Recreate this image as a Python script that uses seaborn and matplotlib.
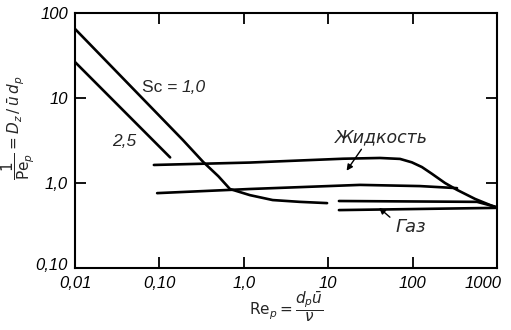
import numpy as np
import pandas as pd
import matplotlib
matplotlib.use("Agg")
import matplotlib.pyplot as plt
import matplotlib.transforms as mtransforms
import seaborn as sns
from matplotlib.ticker import FixedLocator, FixedFormatter, NullLocator

# ---- data ----
sc10_re = [0.01, 0.19, 0.33, 0.5, 0.685, 1.18, 2.2, 4.6, 9.7]
sc10_y = [65.0, 3.2, 1.77, 1.2, 0.85, 0.72, 0.63, 0.60, 0.58]

sc25_re = [0.01, 0.134]
sc25_y = [26.5, 2.0]

liq_up_re = [0.086, 1.18, 4.6, 15.0, 41.0, 71.0, 98.0, 129.0, 170.0, 242.0, 336.0, 549.0, 1000.0]
liq_up_y = [1.63, 1.74, 1.84, 1.93, 1.97, 1.92, 1.75, 1.54, 1.28, 1.0, 0.83, 0.65, 0.51]

liq_lo_re = [0.094, 1.18, 23.8, 122.0, 336.0]
liq_lo_y = [0.76, 0.85, 0.95, 0.92, 0.87]

gas_up_re = [13.4, 580.0, 1000.0]
gas_up_y = [0.614, 0.60, 0.52]

gas_lo_re = [13.4, 1000.0]
gas_lo_y = [0.48, 0.51]

xtick_vals = [0.01, 0.1, 1, 10, 100, 1000]
xtick_labels = ["0,01", "0,10", "1,0", "10", "100", "1000"]
ytick_vals = [0.1, 1, 10, 100]
ytick_labels = ["0,10", "1,0", "10", "100"]

# ---- figure ----
sns.set_style("ticks")
plt.rcParams['font.family'] = ['DejaVu Sans']
plt.rcParams['mathtext.fontset'] = 'dejavusans'

fig = plt.figure(figsize=(5.11, 3.30), dpi=100)
ax = fig.add_axes([75/511, 1-268/330, (497-75)/511, (268-13)/330])

lw = 1.9
for xs, ys in [(sc10_re, sc10_y), (sc25_re, sc25_y), (liq_up_re, liq_up_y),
               (liq_lo_re, liq_lo_y), (gas_up_re, gas_up_y), (gas_lo_re, gas_lo_y)]:
    df = pd.DataFrame({"Re": xs, "v": ys})
    sns.lineplot(data=df, x="Re", y="v", ax=ax, color="black", lw=lw,
                 sort=False, estimator=None)

ax.set_xscale("log")
ax.set_yscale("log")
ax.set_xlim(0.01, 1000)
ax.set_ylim(0.1, 100)

ax.xaxis.set_major_locator(FixedLocator(xtick_vals))
ax.xaxis.set_major_formatter(FixedFormatter(xtick_labels))
ax.yaxis.set_major_locator(FixedLocator(ytick_vals))
ax.yaxis.set_major_formatter(FixedFormatter(ytick_labels))
ax.xaxis.set_minor_locator(NullLocator())
ax.yaxis.set_minor_locator(NullLocator())

ax.tick_params(which="major", direction="in", length=8, width=1.3,
               top=True, right=True, colors="black")
ax.tick_params(axis="x", pad=6)
ax.tick_params(axis="y", pad=5)
for lab in ax.get_xticklabels() + ax.get_yticklabels():
    lab.set_fontfamily("Liberation Sans")
    lab.set_fontstyle("italic")
    lab.set_fontsize(12)

fig.canvas.draw()
xl = ax.get_xticklabels()
xl[-1].set_horizontalalignment("right")
xl[-1].set_transform(xl[-1].get_transform() +
                     mtransforms.ScaledTranslation(5/100, 0, fig.dpi_scale_trans))
yl = ax.get_yticklabels()
yl[0].set_transform(yl[0].get_transform() +
                    mtransforms.ScaledTranslation(0, 4/100, fig.dpi_scale_trans))

for s in ax.spines.values():
    s.set_linewidth(1.5)
    s.set_color("black")

ax.set_xlabel(r"$\mathrm{Re}_p = \dfrac{d_p\bar{u}}{\nu}$", fontsize=11)
ax.xaxis.set_label_coords(0.5, -0.083)
ax.set_ylabel(r"$\dfrac{1}{\mathrm{Pe}_p} = \mathit{D_z}\,/\,\bar{u}\,d_p$", fontsize=11)
ax.yaxis.set_label_coords(-0.09, 0.55)

ax.text(0.062, 10**(2-74/85), "Sc =", fontsize=12.5, family="Liberation Sans",
        ha="left", va="center")
ax.text(10**((182-75)/84.4-2), 10**(2-74/85), "1,0", fontsize=12.5,
        family="Liberation Sans", style="italic", ha="left", va="center")
ax.text(0.0274, 10**(2-129/85), "2,5", fontsize=12.5, family="Liberation Sans",
        style="italic", ha="left", va="center")
ax.text(12.0, 10**(2-124/85), "Жидкость", fontsize=12.5, style="italic", ha="left", va="center")
ax.text(62.0, 10**(2-214/85), "Газ", fontsize=13, style="italic", ha="left", va="center")

def px2data(xp, yp):
    return 10**((xp-75)/84.4 - 2), 10**(2 - (yp-13)/85)

ax.annotate("", xy=px2data(345, 173), xytext=px2data(363, 147),
            arrowprops=dict(arrowstyle="-|>", color="black", lw=1.0, mutation_scale=9))
ax.annotate("", xy=px2data(377, 206), xytext=px2data(392, 219),
            arrowprops=dict(arrowstyle="-|>", color="black", lw=1.0, mutation_scale=9))

fig.savefig("out.png", dpi=100)
